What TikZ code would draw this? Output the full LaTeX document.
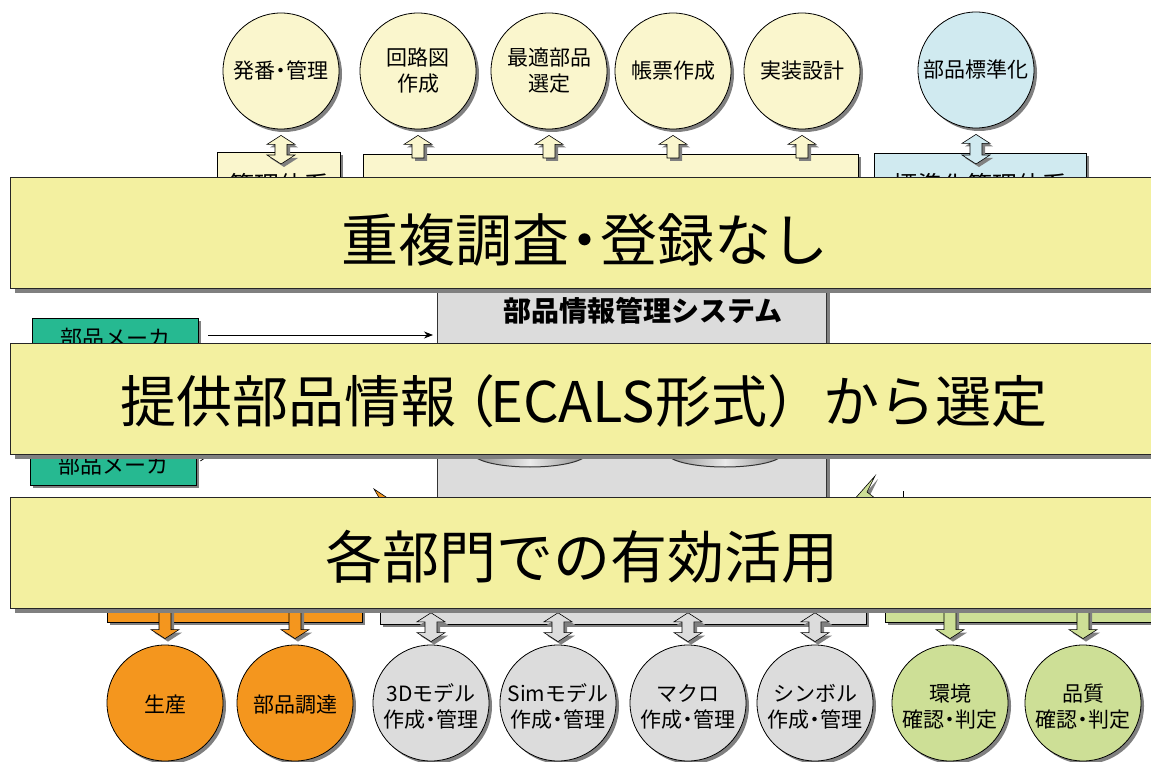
\documentclass[tikz,border=0pt]{standalone}
\usepackage{fontspec}
\setmainfont{Noto Sans CJK JP}
\usetikzlibrary{shadows,calc,arrows.meta}
\definecolor{banner}{RGB}{243,240,160}
\definecolor{pyel}{RGB}{250,246,205}
\definecolor{pblue}{RGB}{208,234,240}
\definecolor{pteal}{RGB}{38,185,145}
\definecolor{porange}{RGB}{244,150,30}
\definecolor{pgray}{RGB}{220,220,220}
\definecolor{pgreen}{RGB}{205,223,150}
\definecolor{shd}{RGB}{128,128,128}
\newcommand\MidDot{\kern-0.22em・\kern-0.22em}
\newcommand\ctxt[2]{\raisebox{-#1}[\height][\depth]{\begin{tabular}{@{}c@{}}#2\end{tabular}}}
\tikzset{
  shadowed/.style={drop shadow={shadow xshift=3pt,shadow yshift=-3pt,fill=shd,opacity=1}},
  bubble/.style={circle,draw=black,line width=0.8pt,minimum size=116pt,inner sep=0pt,font=\fontsize{21}{26}\selectfont,shadowed},
  panel/.style={draw=black,line width=0.8pt,shadowed,anchor=north west,inner sep=0pt},
  bannerbox/.style={draw=black!85,line width=1.2pt,fill=banner,anchor=north west,inner sep=0pt,minimum width=1160pt,minimum height=111pt,drop shadow={shadow xshift=4pt,shadow yshift=-4pt,fill=shd,opacity=1}},
  bantext/.style={font=\fontsize{57}{62}\selectfont},
  boxtext/.style={font=\fontsize{25}{28}\selectfont},
  maker/.style={draw=black,line width=0.8pt,fill=pteal,minimum width=166pt,minimum height=40pt,inner sep=0pt,font=\fontsize{22}{24}\selectfont,shadowed},
  fatarrow/.style={draw=black,line width=0.6pt,shadowed},
}
\newcommand\ArrUp[3]{\path[fill=#1,fatarrow] let \p1=#2, \p2=#3 in
  (\x1-6pt,\y2) -- (\x1-6pt,\y1-9pt) -- (\x1-14pt,\y1-9pt) -- (\x1,\y1) -- (\x1+14pt,\y1-9pt) -- (\x1+6pt,\y1-9pt) -- (\x1+6pt,\y2) -- cycle;}
\newcommand\ArrDown[3]{\path[fill=#1,fatarrow] let \p1=#2, \p2=#3 in
  (\x1-6pt,\y1) -- (\x1-6pt,\y2+9pt) -- (\x1-14pt,\y2+9pt) -- (\x1,\y2) -- (\x1+14pt,\y2+9pt) -- (\x1+6pt,\y2+9pt) -- (\x1+6pt,\y1) -- cycle;}
\newcommand\ArrDbl[3]{\path[fill=#1,fatarrow] let \p1=#2, \p2=#3 in
  (\x1,\y1) -- (\x1+14pt,\y1-9pt) -- (\x1+6pt,\y1-9pt) -- (\x1+6pt,\y2+9pt) -- (\x1+14pt,\y2+9pt) -- (\x1,\y2) -- (\x1-14pt,\y2+9pt) -- (\x1-6pt,\y2+9pt) -- (\x1-6pt,\y1-9pt) -- (\x1-14pt,\y1-9pt) -- cycle;}
\begin{document}
\begin{tikzpicture}[x=1pt,y=-1pt]
\useasboundingbox (0,0) rectangle (1151,762);
\fill[white] (0,0) rectangle (1151,762);

% top panels
\node[panel,fill=pyel,minimum width=123pt,minimum height=100pt] (tb1) at (217,152) {};
\node[panel,fill=pyel,minimum width=495pt,minimum height=100pt] (tb2) at (363,154) {};
\node[panel,fill=pblue,minimum width=212pt,minimum height=100pt] (tb3) at (874,153) {};
\node[boxtext] (tt1) at (279,185) {管理体系};
\node[boxtext] (tt3) at (980,185) {標準化管理体系};

% top circles
\node[bubble,fill=pyel] (c1) at (281,71) {\ctxt{2pt}{発番\MidDot 管理}};
\node[bubble,fill=pyel] (c2) at (418,71) {\ctxt{2pt}{回路図\\作成}};
\node[bubble,fill=pyel] (c3) at (549,71) {\ctxt{2pt}{最適部品\\選定}};
\node[bubble,fill=pyel] (c4) at (673,71) {\ctxt{2pt}{帳票作成}};
\node[bubble,fill=pyel] (c5) at (802,71) {\ctxt{2pt}{実装設計}};
\node[bubble,fill=pblue] (c6) at (976,70) {\ctxt{2pt}{部品標準化}};

\ArrDbl{pyel}{($(c1.south)+(0,6)$)}{($(c1.south|-tb1.north)+(0,12)$)}
\ArrUp{pyel}{($(c2.south)+(0,6)$)}{($(c2.south|-tb2.north)+(0,4)$)}
\ArrUp{pyel}{($(c3.south)+(0,6)$)}{($(c3.south|-tb2.north)+(0,4)$)}
\ArrUp{pyel}{($(c4.south)+(0,6)$)}{($(c4.south|-tb2.north)+(0,4)$)}
\ArrUp{pyel}{($(c5.south)+(0,6)$)}{($(c5.south|-tb2.north)+(0,4)$)}
\ArrDbl{pblue}{($(c6.south)+(0,6)$)}{($(c6.south|-tb3.north)+(0,11)$)}

% system
\node[panel,fill=pgray,draw=black!80,line width=1.4pt,minimum width=389pt,minimum height=300pt] (sys) at (437,250) {};
\node[font=\fontsize{28}{32}\selectfont\bfseries] (systitle) at (643,311) {部品情報管理システム};
\path[left color=black!45,right color=black!45,middle color=black!8,draw=black!80,line width=1pt]
  (473,380) -- (473,453) arc[start angle=180,end angle=0,x radius=57,y radius=14] -- (587,380) -- cycle;
\path[left color=black!45,right color=black!45,middle color=black!8,draw=black!80,line width=1pt]
  (667,380) -- (667,453) arc[start angle=180,end angle=0,x radius=58,y radius=14] -- (783,380) -- cycle;

% makers
\node[maker] (m1) at (115,338) {部品メーカ};
\node[maker] (m2) at (113,465) {部品メーカ};
\draw[line width=0.8pt,-{Stealth[length=9pt,width=7pt]}] ($(m1.east)+(10,-3)$) -- ($(sys.west|-m1.east)+(-4,-3)$);
\coordinate (m2end) at (242,432);
\draw[line width=0.8pt] ($(m2.east)+(4,-4)$) -- (m2end);

% lightning tips
\filldraw[fill=porange,draw=black,line width=0.6pt] (374,489) -- (392,501) -- (381,501) -- cycle;
\filldraw[fill=pgreen,draw=black,line width=0.6pt,shadowed] (852,502) -- (875,476) -- (867,492) -- (880,502) -- cycle;
\draw[line width=0.8pt] (903,491) -- (903,502);

% bottom panels
\node[panel,fill=porange,minimum width=255pt,minimum height=32pt] (ob) at (107,590) {};
\node[panel,fill=pgray,minimum width=486pt,minimum height=34pt] (gb) at (380,590) {};
\node[panel,fill=pgreen,minimum width=280pt,minimum height=32pt] (grb) at (885,590) {};

% bottom circles
\node[bubble,fill=porange] (b1) at (165,703) {\ctxt{4pt}{生産}};
\node[bubble,fill=porange] (b2) at (295,703) {\ctxt{4pt}{部品調達}};
\node[bubble,fill=pgray] (b3) at (431,703) {\ctxt{6pt}{3Dモデル\\作成\MidDot 管理}};
\node[bubble,fill=pgray] (b4) at (558,703) {\ctxt{6pt}{Simモデル\\作成\MidDot 管理}};
\node[bubble,fill=pgray] (b5) at (688,703) {\ctxt{6pt}{マクロ\\作成\MidDot 管理}};
\node[bubble,fill=pgray] (b6) at (815,703) {\ctxt{6pt}{シンボル\\作成\MidDot 管理}};
\node[bubble,fill=pgreen] (b7) at (950,703) {\ctxt{6pt}{環境\\確認\MidDot 判定}};
\node[bubble,fill=pgreen] (b8) at (1083,703) {\ctxt{6pt}{品質\\確認\MidDot 判定}};

\ArrDown{porange}{($(b1.north|-ob.south)+(0,-14)$)}{($(b1.north)+(0,-6)$)}
\ArrDown{porange}{($(b2.north|-ob.south)+(0,-14)$)}{($(b2.north)+(0,-6)$)}
\ArrDbl{pgray}{($(b3.north|-gb.south)+(0,-12)$)}{($(b3.north)+(0,-3)$)}
\ArrDbl{pgray}{($(b4.north|-gb.south)+(0,-12)$)}{($(b4.north)+(0,-3)$)}
\ArrDbl{pgray}{($(b5.north|-gb.south)+(0,-12)$)}{($(b5.north)+(0,-3)$)}
\ArrDbl{pgray}{($(b6.north|-gb.south)+(0,-12)$)}{($(b6.north)+(0,-3)$)}
\ArrDown{pgreen}{($(b7.north|-grb.south)+(0,-14)$)}{($(b7.north)+(0,-6)$)}
\ArrDown{pgreen}{($(b8.north|-grb.south)+(0,-14)$)}{($(b8.north)+(0,-6)$)}

% banners
\node[bannerbox] (ban1) at (10,177) {};
\node[bannerbox] (ban2) at (10,343) {};
\node[bannerbox] (ban3) at (10,497) {};
\node[bantext] (bt1) at (585,240) {重複調査\MidDot 登録なし};
\node[bantext,font=\fontsize{56}{62}\selectfont] (bt2) at (584,401) {提供部品情報\kern-0.3em（\kern-0.1em ECALS形式）から選定};
\node[bantext] (bt3) at (582,557) {各部門での有効活用};
\end{tikzpicture}
\end{document}
